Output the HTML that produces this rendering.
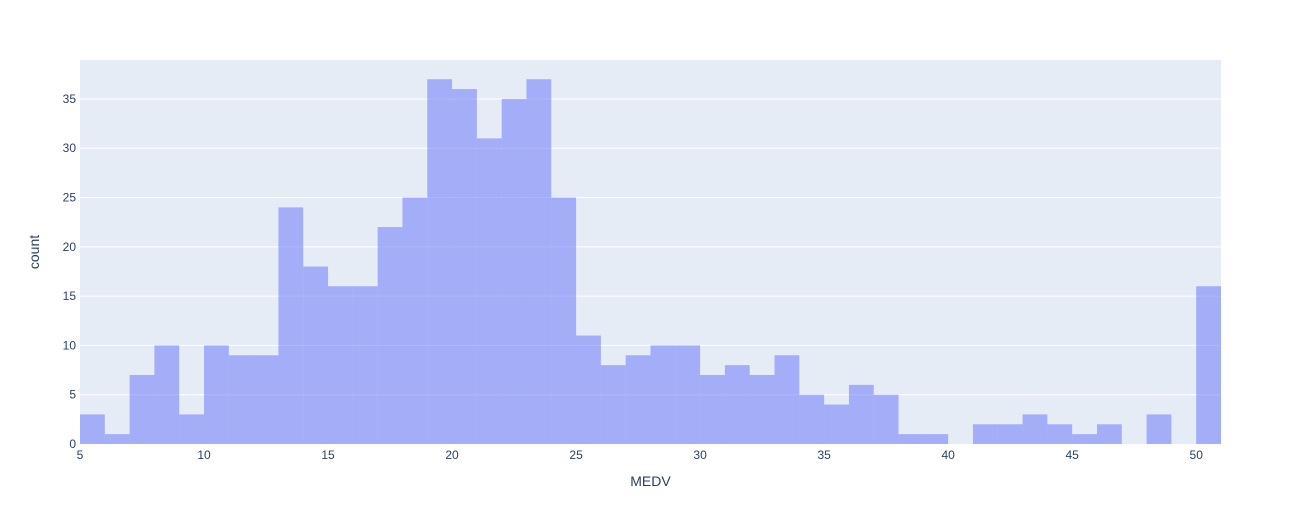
<!DOCTYPE html>
<html><head><meta charset="utf-8"><style>
body{margin:0;background:#fff;font-family:"Liberation Sans",Arial,sans-serif}
svg text{font-family:"Liberation Sans",Arial,sans-serif;fill:#2a3f5f}
</style></head><body>
<svg id="chart" width="1300" height="525" xmlns="http://www.w3.org/2000/svg">
<rect x="0" y="0" width="1300" height="525" fill="#fff"/>
<rect x="80" y="60" width="1141" height="384" fill="#e5ecf6"/>
<g id="grid"></g><g id="bars"></g><g id="xt"></g><g id="yt"></g>
<text x="650.5" y="486" font-size="14" text-anchor="middle">MEDV</text>
<text x="39" y="252" font-size="14" text-anchor="middle" transform="rotate(-90 39 252)">count</text>
</svg>
<script>
const binStarts=[5,6,7,8,9,10,11,12,13,14,15,16,17,18,19,20,21,22,23,24,25,26,27,28,29,30,31,32,33,34,35,36,37,38,39,40,41,42,43,44,45,46,47,48,49,50];
const counts=[3,1,7,10,3,10,9,9,24,18,16,16,22,25,37,36,31,35,37,25,11,8,9,10,10,7,8,7,9,5,4,6,5,1,1,0,2,2,3,2,1,2,0,3,0,16];
const xTicks=[5,10,15,20,25,30,35,40,45,50];
const yTicks=[0,5,10,15,20,25,30,35];
const binWidth=1;
const X0=80,X1=1221,Y0=444,Y1=60,xmin=5,xmax=51,ymax=38.95;
const sx=v=>X0+(v-xmin)*(X1-X0)/(xmax-xmin);
const sy=v=>Y0-v*(Y0-Y1)/ymax;
const NS="http://www.w3.org/2000/svg";
function mk(t,a,p){const e=document.createElementNS(NS,t);for(const k in a)e.setAttribute(k,a[k]);p.appendChild(e);return e;}
const grid=document.getElementById('grid'),bars=document.getElementById('bars'),xt=document.getElementById('xt'),yt=document.getElementById('yt');
yTicks.forEach(v=>{
 if(v>0){const l=mk('line',{x1:X0,x2:X1,y1:sy(v),y2:sy(v),stroke:'#fff','stroke-width':1},grid);
 
 }
 const t=mk('text',{x:X0-4,y:sy(v)+4,'font-size':12,'text-anchor':'end'},yt);t.textContent=v;
 
 
});
xTicks.forEach(v=>{
 const t=mk('text',{x:sx(v),y:Y0+15,'font-size':12,'text-anchor':'middle'},xt);t.textContent=v;
 
 
});
binStarts.forEach((b,i)=>{
 if(!counts[i])return;
 const r=mk('rect',{x:sx(b),y:sy(counts[i]),width:sx(b+binWidth)-sx(b),height:Y0-sy(counts[i]),fill:'#636efa','fill-opacity':0.5},bars);
 
 
});
</script>
</body></html>
